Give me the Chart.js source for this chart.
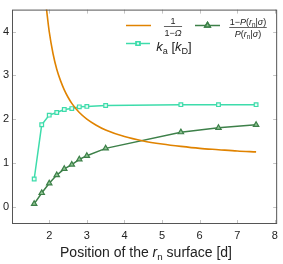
<!DOCTYPE html>
<html>
<head>
<meta charset="utf-8">
<script src="https://cdn.jsdelivr.net/npm/chart.js@4.4.1/dist/chart.umd.min.js"></script>
<style>
  html, body { margin: 0; padding: 0; background: #fff; }
  #plot { display: block; }
</style>
</head>
<body>
<canvas id="plot" width="283" height="264"></canvas>
<script>
// positions of the r_n surface (in units of d) where the markers sit
const rnPositions = [1.6, 1.8, 2.0, 2.2, 2.4, 2.6, 2.8, 3.0, 3.5, 5.5, 6.5, 7.5];
// k_a in units of k_D (teal squares)
const kaValues = [0.63, 1.87, 2.09, 2.15, 2.22, 2.24, 2.28, 2.29, 2.31, 2.33, 2.33, 2.33];
// (1 - P(rn|sigma)) / P(rn|sigma) (green triangles)
const probRatio = [0.06, 0.31, 0.53, 0.72, 0.86, 0.96, 1.08, 1.16, 1.33, 1.70, 1.80, 1.87];
// 1 / (1 - Omega), smooth orange curve
const omegaX = [1.92, 2.0, 2.1, 2.2, 2.3, 2.4, 2.5, 2.6, 2.8, 3.0, 3.25, 3.5, 4.0, 4.5, 5.0, 5.5, 6.0, 6.5, 7.0, 7.5];
const omegaY = [4.57, 4.0, 3.5, 3.14, 2.88, 2.67, 2.5, 2.36, 2.15, 2.0, 1.86, 1.75, 1.6, 1.5, 1.43, 1.375, 1.33, 1.3, 1.27, 1.25];
const xTicks = [2, 3, 4, 5, 6, 7, 8];
const yTicks = [0, 1, 2, 3, 4];

const ORANGE = '#e08300';
const TEAL = '#3ddcab';
const GREEN = '#3d8049';
const FONT = '"Liberation Sans", Arial, sans-serif';

const toPoints = (xs, ys) => xs.map((x, i) => ({x: x, y: ys[i]}));

// draw a run of text pieces ({t, it, sub}) centred at cx, baseline y
function drawPieces(ctx, pieces, cx, y, size) {
    const fontOf = p => (p.it ? 'italic ' : '') + (p.sub ? size * 0.7 : size) + 'px ' + FONT;
    let w = 0;
    pieces.forEach(p => { ctx.font = fontOf(p); w += ctx.measureText(p.t).width; });
    let x = cx - w / 2;
    ctx.textAlign = 'left';
    ctx.textBaseline = 'alphabetic';
    pieces.forEach(p => {
        ctx.font = fontOf(p);
        ctx.fillText(p.t, x, p.sub ? y + size * 0.22 : y);
        x += ctx.measureText(p.t).width;
    });
    return w;
}

function drawFraction(ctx, num, den, cx, cy, size) {
    const w1 = drawPieces(ctx, num, cx, cy - 2.2, size);
    const w2 = drawPieces(ctx, den, cx, cy + size + 0.8, size);
    const w = Math.max(w1, w2) + 1;
    ctx.fillRect(cx - w / 2, cy - 0.5, w, 0.7);
}

function legendLine(ctx, color, x1, x2, y, style, fill) {
    ctx.strokeStyle = color;
    ctx.lineWidth = 1.5;
    ctx.beginPath();
    ctx.moveTo(x1, y);
    ctx.lineTo(x2, y);
    ctx.stroke();
    if (style) {
        Chart.helpers.drawPoint(ctx, {pointStyle: style, radius: style === 'rect' ? 2.6 : 3.1, borderWidth: 1.2}, (x1 + x2) / 2, y);
        ctx.fillStyle = fill;
        ctx.strokeStyle = color;
        ctx.fill();
        ctx.stroke();
    }
}

const framePlugin = {
    id: 'frame',
    afterDatasetsDraw(chart) {
        const {ctx, chartArea: a, scales} = chart;
        ctx.save();
        // tick marks inside, on all four sides
        ctx.strokeStyle = '#c4c4c4';
        ctx.lineWidth = 1;
        ctx.beginPath();
        xTicks.forEach(v => {
            const px = Math.round(scales.x.getPixelForValue(v)) + 0.5;
            ctx.moveTo(px, a.bottom); ctx.lineTo(px, a.bottom - 4);
            ctx.moveTo(px, a.top); ctx.lineTo(px, a.top + 4);
        });
        yTicks.forEach(v => {
            const py = Math.round(scales.y.getPixelForValue(v)) + 0.5;
            ctx.moveTo(a.left, py); ctx.lineTo(a.left + 4, py);
            ctx.moveTo(a.right, py); ctx.lineTo(a.right - 4, py);
        });
        ctx.stroke();
        ctx.strokeStyle = '#555';
        ctx.strokeRect(a.left + 0.5, a.top + 0.5, a.right - a.left - 1, a.bottom - a.top - 1);
        ctx.restore();
    },
    afterDraw(chart) {
        const ctx = chart.ctx;
        const ds = chart.data.datasets;
        ctx.save();
        // legend row 1
        legendLine(ctx, ds[0].borderColor, 126, 151, 25.5);
        ctx.fillStyle = '#222';
        drawFraction(ctx, [{t: '1'}], [{t: '1\u2212'}, {t: '\u03A9', it: true}], 173, 26.5, 9);
        legendLine(ctx, ds[2].borderColor, 195, 220, 25.5, 'triangle', ds[2].pointBackgroundColor);
        ctx.fillStyle = '#222';
        const pr = [{t: 'P', it: true}, {t: '('}, {t: 'r', it: true}, {t: 'n', sub: true}, {t: '|'}, {t: '\u03C3', it: true}, {t: ')'}];
        drawFraction(ctx, [{t: '1\u2212'}].concat(pr), pr, 248, 27.5, 9);
        // legend row 2
        legendLine(ctx, ds[1].borderColor, 126, 150, 43.5, 'rect', ds[1].pointBackgroundColor);
        ctx.fillStyle = '#222';
        drawPieces(ctx, [{t: 'k', it: true}, {t: 'a', sub: true}, {t: ' ['}, {t: 'k', it: true}, {t: 'D', sub: true}, {t: ']'}], 174, 51, 13);
        // x axis title
        drawPieces(ctx, [{t: 'Position of the '}, {t: 'r', it: true}, {t: 'n', sub: true}, {t: ' surface [d]'}], 146, 257, 14);
        ctx.restore();
    }
};

new Chart(document.getElementById('plot'), {
    type: 'line',
    data: {
        datasets: [{
            label: '1/(1-\u03A9)',
            data: toPoints(omegaX, omegaY),
            borderColor: ORANGE,
            borderWidth: 1.6,
            pointRadius: 0,
            cubicInterpolationMode: 'monotone',
            order: 1
        }, {
            label: 'k_a [k_D]',
            data: toPoints(rnPositions, kaValues),
            borderColor: TEAL,
            borderWidth: 1.5,
            pointStyle: 'rect',
            pointRadius: 2.6,
            pointBorderWidth: 1.2,
            pointBackgroundColor: '#e8fbf4',
            order: 2
        }, {
            label: '(1-P)/P',
            data: toPoints(rnPositions, probRatio),
            borderColor: GREEN,
            borderWidth: 1.5,
            pointStyle: 'triangle',
            pointRadius: 3.1,
            pointBorderWidth: 1.2,
            pointBackgroundColor: '#8fc493',
            order: 3
        }]
    },
    options: {
        responsive: false,
        animation: false,
        devicePixelRatio: 1,
        layout: { padding: { top: 1, right: 4, left: 0, bottom: 0 } },
        plugins: { legend: { display: false }, tooltip: { enabled: false } },
        scales: {
            x: {
                type: 'linear',
                min: 1.01,
                max: 8.06,
                afterBuildTicks: s => { s.ticks = xTicks.map(v => ({value: v})); },
                afterFit: s => { s.height = 40; },
                grid: { display: false, drawTicks: false },
                border: { display: false },
                ticks: { color: '#222', padding: 5, maxRotation: 0, font: { family: FONT, size: 11 } }
            },
            y: {
                type: 'linear',
                min: -0.40,
                max: 4.505,
                afterBuildTicks: s => { s.ticks = yTicks.map(v => ({value: v})); },
                afterFit: s => { s.width = 12; },
                grid: { display: false, drawTicks: false },
                border: { display: false },
                ticks: { color: '#222', padding: 3, font: { family: FONT, size: 11 } }
            }
        }
    },
    plugins: [framePlugin]
});
</script>
</body>
</html>
